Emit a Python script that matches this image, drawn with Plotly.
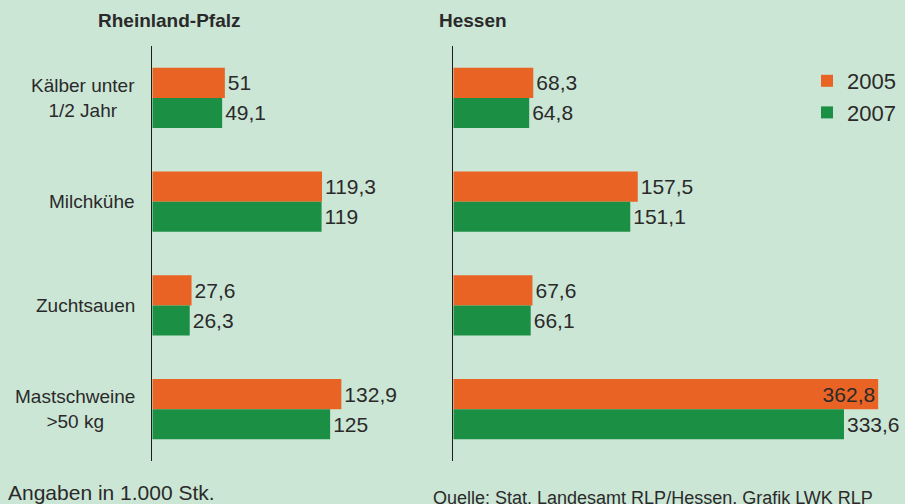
import plotly.graph_objects as go

categories = ["Kälber unter<br>1/2 Jahr", "Milchkühe", "Zuchtsauen", "Mastschweine<br>>50 kg"]
series_names = ["2005", "2007"]
rlp_2005 = [51, 119.3, 27.6, 132.9]
rlp_2007 = [49.1, 119, 26.3, 125]
he_2005 = [68.3, 157.5, 67.6, 362.8]
he_2007 = [64.8, 151.1, 66.1, 333.6]

W, H = 905, 504
FONT = "Liberation Sans Narrow, Arial Narrow, Liberation Sans, Arial, sans-serif"
TXT = "#2a2a2a"
BG = "#CCE6D6"
COLORS = ["#E96325", "#1B8F44"]

RLP_MAX = 195.2
HE_MAX = 385.7
VAL_SIZE = 21


def fmt(v):
    s = f"{v:g}"
    return s.replace(".", ",")


def positions(vals, vmax):
    return ["inside" if v > 0.9 * vmax else "outside" for v in vals]


fig = go.Figure()
panels = [("x", "y", rlp_2005, rlp_2007, RLP_MAX), ("x2", "y2", he_2005, he_2007, HE_MAX)]
for pi, (xa, ya, a, b, vmax) in enumerate(panels):
    for si, vals in enumerate([a, b]):
        fig.add_trace(go.Bar(
            x=vals, y=categories, orientation="h",
            xaxis=xa, yaxis=ya,
            name=series_names[si],
            legendgroup=series_names[si],
            showlegend=(pi == 1),
            marker=dict(color=COLORS[si], line=dict(width=0)),
            text=[fmt(v) for v in vals],
            textposition=positions(vals, vmax),
            insidetextanchor="end",
            constraintext="none",
            textfont=dict(family=FONT, size=VAL_SIZE, color=TXT),
            insidetextfont=dict(family=FONT, size=VAL_SIZE, color=TXT),
            outsidetextfont=dict(family=FONT, size=VAL_SIZE, color=TXT),
            cliponaxis=False,
            hoverinfo="skip",
        ))

ydom = [(H - 461) / H, (H - 46) / H]
yax = dict(domain=ydom, type="category", categoryorder="array", categoryarray=categories,
           range=[3.5, -0.5], showline=True, linecolor="#1e1e1e", linewidth=1.3,
           showgrid=False, zeroline=False, showticklabels=False, ticks="")
fig.update_layout(
    width=W, height=H,
    margin=dict(l=0, r=0, t=0, b=0),
    paper_bgcolor=BG, plot_bgcolor=BG,
    barmode="group", bargap=0.42, bargroupgap=0,
    showlegend=True,
    legend=dict(x=807 / W, xanchor="left", y=1 - 60 / H, yanchor="top",
                bgcolor="rgba(0,0,0,0)", font=dict(family=FONT, size=22, color=TXT),
                tracegroupgap=19, traceorder="normal"),
    xaxis=dict(domain=[152.3 / W, 430 / W], range=[0, RLP_MAX], visible=False, anchor="y"),
    xaxis2=dict(domain=[453.3 / W, 1.0], range=[0, HE_MAX], visible=False, anchor="y2"),
    yaxis=dict(anchor="x", **yax),
    yaxis2=dict(anchor="x2", **yax),
)

# category labels
for c in categories:
    fig.add_annotation(x=137 / W, xref="paper", y=c, yref="y", text=c, showarrow=False,
                       xanchor="right", yanchor="middle", align="center",
                       font=dict(family=FONT, size=19, color=TXT))

# panel titles
fig.add_annotation(x=96 / W, y=1 - 21 / H, xref="paper", yref="paper", text="<b>Rheinland-Pfalz</b>",
                   showarrow=False, xanchor="left", yanchor="middle",
                   font=dict(family=FONT, size=19, color=TXT))
fig.add_annotation(x=437 / W, y=1 - 21 / H, xref="paper", yref="paper", text="<b>Hessen</b>",
                   showarrow=False, xanchor="left", yanchor="middle",
                   font=dict(family=FONT, size=19, color=TXT))

# footnotes
fig.add_annotation(x=6 / W, y=1 - 492 / H, xref="paper", yref="paper", text="Angaben in 1.000 Stk.",
                   showarrow=False, xanchor="left", yanchor="middle",
                   font=dict(family=FONT, size=21, color=TXT))
fig.add_annotation(x=431 / W, y=1 - 498 / H, xref="paper", yref="paper",
                   text="Quelle: Stat. Landesamt RLP/Hessen, Grafik LWK RLP",
                   showarrow=False, xanchor="left", yanchor="middle",
                   font=dict(family=FONT, size=18, color=TXT))

fig.write_html("out.html", config={"displayModeBar": False})

# remove the browser's default page margin so the figure fills the window exactly
with open("out.html", encoding="utf-8") as f:
    html = f.read()
html = html.replace("<head>", "<head><style>html,body{margin:0;padding:0;overflow:hidden;}</style>", 1)
with open("out.html", "w", encoding="utf-8") as f:
    f.write(html)
